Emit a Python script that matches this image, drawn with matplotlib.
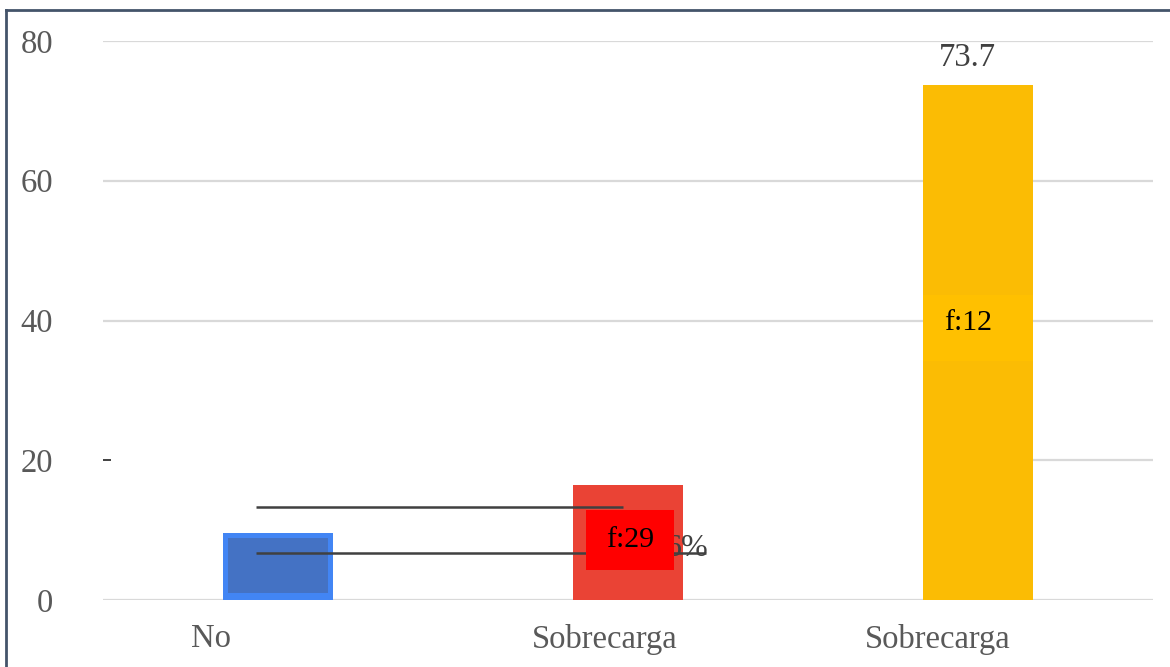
import matplotlib.pyplot as plt
from matplotlib.lines import Line2D

plt.rcParams['font.family'] = ['Liberation Serif', 'DejaVu Serif']

# datos
categorias = ['No', 'Sobrecarga', 'Sobrecarga']
valores = [9.6, 16.5, 73.7]
colores = ['#4285F4', '#EA4335', '#FBBC04']
yticks = [0, 20, 40, 60, 80]
etiqueta_total = '73.7'
etiqueta_pct = '6%'
lineas_y = [13.3, 6.7]
lineas_x0 = [-0.063, -0.063]
lineas_x1 = [0.986, 1.223]

fig = plt.figure(figsize=(11.7, 6.67), dpi=100)
ax = fig.add_axes([103 / 1170, 67 / 667, 1050 / 1170, 559 / 667])

x = list(range(len(categorias)))
ancho = 0.317

# rejilla (la de 20 casi no se ve)
for v in yticks:
    if v == 20:
        ax.hlines(v, 2 + ancho / 2, 2.5, color='#D9D9D9', lw=1.6, zorder=0)
        ax.hlines(v, -0.5, -0.477, color='#404040', lw=1.4, zorder=0)
    else:
        ax.hlines(v, -0.5, 2.5, color='#D9D9D9', lw=1.6, zorder=0)

ax.bar(x, valores, width=ancho, color=colores, zorder=2)

# rectangulos interiores
ax.bar(0, 7.9, bottom=1.0, width=0.283, color='#4472C4', zorder=3)
ax.bar(1.006, 8.6, bottom=4.3, width=0.251, color='#FF0000', zorder=5)
ax.bar(2, 9.4, bottom=34.2, width=ancho, color='#FFC000', zorder=3)

for y, a, b in zip(lineas_y, lineas_x0, lineas_x1):
    ax.hlines(y, a, b, color='#404040', lw=1.8, zorder=4)

ax.text(1.229, 7.4, etiqueta_pct, ha='right', va='center', fontsize=23,
        color='#404040', zorder=3.5)
ax.text(1.006, 8.6, 'f:29', ha='center', va='center', fontsize=21.5,
        color='black', zorder=6)
ax.text(1.971, 39.6, 'f:12', ha='center', va='center', fontsize=21.5,
        color='black', zorder=6)
ax.text(1.971, 77.6, etiqueta_total, ha='center', va='center', fontsize=23.5,
        color='#404040', zorder=6)

# etiquetas del eje x desplazadas
desp = [-0.19, -0.066, -0.114]
for i, (c, d) in enumerate(zip(categorias, desp)):
    ax.text(i + d, -5.6, c, ha='center', va='center', fontsize=23.5,
            color='#595959', clip_on=False)

ax.set_xlim(-0.5, 2.5)
ax.set_ylim(0, 80)
ax.set_xticks([])
ax.set_yticks(yticks)
ax.set_yticklabels([str(t) for t in yticks], fontsize=23.5, color='#595959')
ax.tick_params(axis='y', length=0, pad=36)
for s in ax.spines.values():
    s.set_visible(False)

# marco
fig.add_artist(Line2D([6 / 1170, 1], [1 - 10 / 667, 1 - 10 / 667],
                      color='#44546A', lw=2, transform=fig.transFigure))
fig.add_artist(Line2D([6 / 1170, 6 / 1170], [0, 1 - 10 / 667],
                      color='#44546A', lw=2, transform=fig.transFigure))

fig.savefig('out.png', dpi=100)
